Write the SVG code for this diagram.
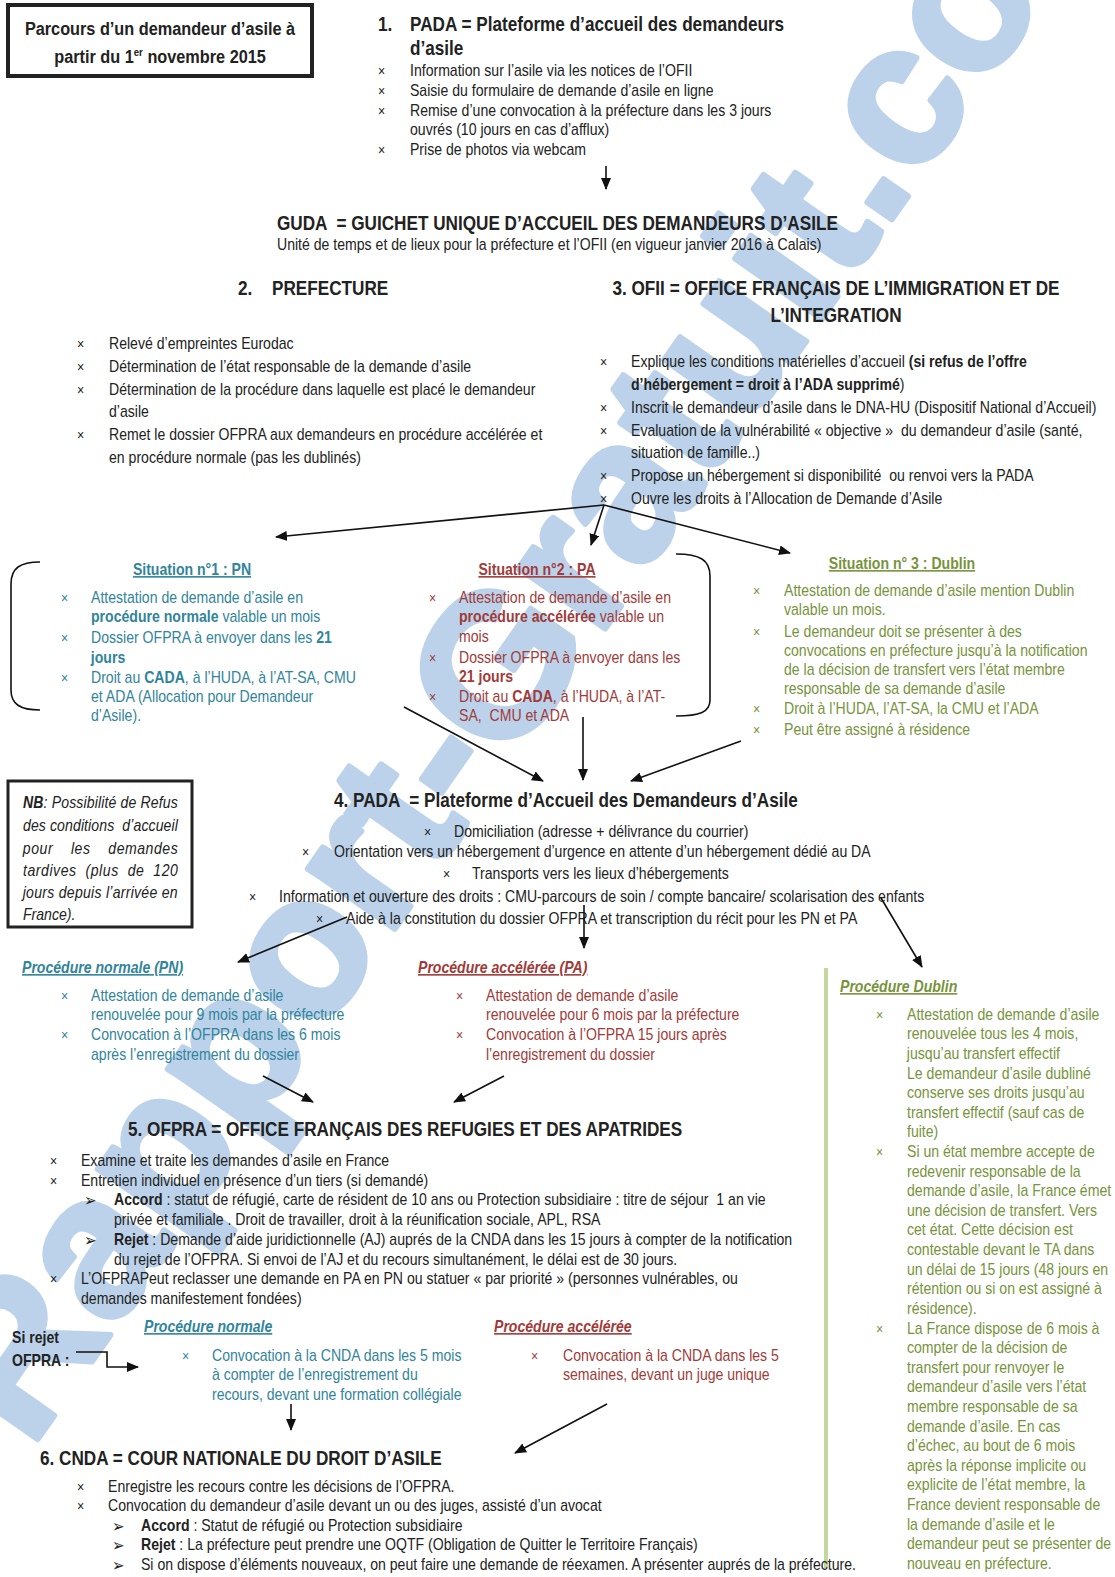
<svg xmlns="http://www.w3.org/2000/svg" width="1115" height="1577" viewBox="0 0 1115 1577">
<style>
text{font-family:'Liberation Sans',Arial,sans-serif;font-size:16px;fill:#222;white-space:pre}
text:not(.wm){transform:scaleX(.88);transform-box:fill-box;transform-origin:0 0}
text.m{text-anchor:middle;transform-origin:50% 0}
.h{font-weight:bold;font-size:19.5px}
.bo{font-weight:bold}
.x{font-size:14px}
.ar{font-family:'DejaVu Sans',sans-serif;font-size:17px}
.pn{fill:#31849B}
.pa{fill:#A03B39}
.du{fill:#77933C}
.ul{text-decoration:underline}
.it{font-style:italic}
.wm{font-weight:bold;font-size:200px;fill:#BCD2EA;stroke:#BCD2EA;stroke-width:6;stroke-linejoin:round}
.cn{stroke:#111;stroke-width:1.6;fill:none}
</style>
<defs>
<marker id="ah" viewBox="0 0 12 10" refX="11" refY="5" markerWidth="12" markerHeight="10" markerUnits="userSpaceOnUse" orient="auto"><path d="M0,0 L12,5 L0,10 z" fill="#111"/></marker>
</defs>
<rect width="1115" height="1577" fill="#fff"/>
<text class="wm" transform="translate(30 1450) rotate(-55)">Rapport-Gratuit.com</text>

<g id="title">
<rect x="8" y="5" width="304" height="71" fill="none" stroke="#222" stroke-width="4"/>
<text class="m bo" x="160" y="35" style="font-size:18.5px">Parcours d’un demandeur d’asile à</text>
<text class="m bo" x="160" y="63" style="font-size:18.5px">partir du 1<tspan font-size="11" dy="-7">er</tspan><tspan dy="7"> novembre 2015</tspan></text>
</g>

<g id="pada1">
<text class="h" x="378" y="31">1.</text>
<text class="h" x="410" y="31">PADA = Plateforme d’accueil des demandeurs</text>
<text class="h" x="410" y="55">d’asile</text>
<text class="x" x="378" y="76">×</text><text x="410" y="76">Information sur l’asile via les notices de l’OFII</text>
<text class="x" x="378" y="96">×</text><text x="410" y="96">Saisie du formulaire de demande d’asile en ligne</text>
<text class="x" x="378" y="116">×</text><text x="410" y="116">Remise d’une convocation à la préfecture dans les 3 jours</text>
<text x="410" y="135">ouvrés (10 jours en cas d’afflux)</text>
<text class="x" x="378" y="155">×</text><text x="410" y="155">Prise de photos via webcam</text>
</g>

<g id="guda">
<text class="h" x="277" y="230">GUDA  = GUICHET UNIQUE D’ACCUEIL DES DEMANDEURS D’ASILE</text>
<text x="277" y="250">Unité de temps et de lieux pour la préfecture et l’OFII (en vigueur janvier 2016 à Calais)</text>
</g>

<g id="prefecture">
<text class="h" x="238" y="295">2.</text>
<text class="h" x="272" y="295">PREFECTURE</text>
<text class="x" x="77" y="349">×</text><text x="109" y="349">Relevé d’empreintes Eurodac</text>
<text class="x" x="77" y="372">×</text><text x="109" y="372">Détermination de l’état responsable de la demande d’asile</text>
<text class="x" x="77" y="395">×</text><text x="109" y="395">Détermination de la procédure dans laquelle est placé le demandeur</text>
<text x="109" y="417">d’asile</text>
<text class="x" x="77" y="440">×</text><text x="109" y="440">Remet le dossier OFPRA aux demandeurs en procédure accélérée et</text>
<text x="109" y="463">en procédure normale (pas les dublinés)</text>
</g>

<g id="ofii">
<text class="h m" x="836" y="295">3. OFII = OFFICE FRANÇAIS DE L’IMMIGRATION ET DE</text>
<text class="h m" x="836" y="322">L’INTEGRATION</text>
<text class="x" x="600" y="367">×</text><text x="631" y="367">Explique les conditions matérielles d’accueil <tspan class="bo">(si refus de l’offre</tspan></text>
<text x="631" y="390"><tspan class="bo">d’hébergement = droit à l’ADA supprimé</tspan>)</text>
<text class="x" x="600" y="413">×</text><text x="631" y="413">Inscrit le demandeur d’asile dans le DNA-HU (Dispositif National d’Accueil)</text>
<text class="x" x="600" y="436">×</text><text x="631" y="436">Evaluation de la vulnérabilité « objective »  du demandeur d’asile (santé,</text>
<text x="631" y="458">situation de famille..)</text>
<text class="x" x="600" y="481">×</text><text x="631" y="481">Propose un hébergement si disponibilité  ou renvoi vers la PADA</text>
<text class="x" x="600" y="504">×</text><text x="631" y="504">Ouvre les droits à l’Allocation de Demande d’Asile</text>
</g>

<g id="situation1">
<path class="cn" d="M40,562 C20,562 11,568 11,584 L11,690 C11,704 20,710 40,710"/>
<text class="m bo ul pn" x="192" y="575">Situation n°1 : PN</text>
<text class="x pn" x="61" y="603">×</text><text class="pn" x="91" y="603">Attestation de demande d’asile en</text>
<text class="pn" x="91" y="622"><tspan class="bo">procédure normale</tspan> valable un mois</text>
<text class="x pn" x="61" y="643">×</text><text class="pn" x="91" y="643">Dossier OFPRA à envoyer dans les <tspan class="bo">21</tspan></text>
<text class="pn bo" x="91" y="663">jours</text>
<text class="x pn" x="61" y="683">×</text><text class="pn" x="91" y="683">Droit au <tspan class="bo">CADA</tspan>, à l’HUDA, à l’AT-SA, CMU</text>
<text class="pn" x="91" y="702">et ADA (Allocation pour Demandeur</text>
<text class="pn" x="91" y="721">d’Asile).</text>
</g>

<g id="situation2">
<path class="cn" d="M676,554 C700,554 710,560 710,576 L710,700 C710,712 700,716 676,716"/>
<text class="m bo ul pa" x="537" y="575">Situation n°2 : PA</text>
<text class="x pa" x="429" y="603">×</text><text class="pa" x="459" y="603">Attestation de demande d’asile en</text>
<text class="pa" x="459" y="622"><tspan class="bo">procédure accélérée</tspan> valable un</text>
<text class="pa" x="459" y="642">mois</text>
<text class="x pa" x="429" y="663">×</text><text class="pa" x="459" y="663">Dossier OFPRA à envoyer dans les</text>
<text class="pa bo" x="459" y="682">21 jours</text>
<text class="x pa" x="429" y="702">×</text><text class="pa" x="459" y="702">Droit au <tspan class="bo">CADA</tspan>, à l’HUDA, à l’AT-</text>
<text class="pa" x="459" y="721">SA,  CMU et ADA</text>
</g>

<g id="situation3">
<text class="m bo ul du" x="902" y="569">Situation n° 3 : Dublin</text>
<text class="x du" x="753" y="596">×</text><text class="du" x="784" y="596">Attestation de demande d’asile mention Dublin</text>
<text class="du" x="784" y="615">valable un mois.</text>
<text class="x du" x="753" y="637">×</text><text class="du" x="784" y="637">Le demandeur doit se présenter à des</text>
<text class="du" x="784" y="656">convocations en préfecture jusqu’à la notification</text>
<text class="du" x="784" y="675">de la décision de transfert vers l’état membre</text>
<text class="du" x="784" y="694">responsable de sa demande d’asile</text>
<text class="x du" x="753" y="714">×</text><text class="du" x="784" y="714">Droit à l’HUDA, l’AT-SA, la CMU et l’ADA</text>
<text class="x du" x="753" y="735">×</text><text class="du" x="784" y="735">Peut être assigné à résidence</text>
</g>

<g id="nb">
<rect x="8" y="781" width="184" height="146" fill="#fff" stroke="#222" stroke-width="3"/>
<text class="it" x="23" y="808" textLength="176" lengthAdjust="spacing"><tspan class="bo">NB</tspan>: Possibilité de Refus</text>
<text class="it" x="23" y="831" textLength="176" lengthAdjust="spacing">des conditions  d’accueil</text>
<text class="it" x="23" y="854" textLength="176" lengthAdjust="spacing">pour    les    demandes</text>
<text class="it" x="23" y="876" textLength="176" lengthAdjust="spacing">tardives  (plus  de  120</text>
<text class="it" x="23" y="898" textLength="176" lengthAdjust="spacing">jours depuis l’arrivée en</text>
<text class="it" x="23" y="920">France).</text>
</g>

<g id="pada4">
<text class="h" x="334" y="807">4. PADA  = Plateforme d’Accueil des Demandeurs d’Asile</text>
<text class="x" x="424" y="837">×</text><text x="454" y="837">Domiciliation (adresse + délivrance du courrier)</text>
<text class="x" x="302" y="857">×</text><text x="334" y="857">Orientation vers un hébergement d’urgence en attente d’un hébergement dédié au DA</text>
<text class="x" x="443" y="879">×</text><text x="472" y="879">Transports vers les lieux d’hébergements</text>
<text class="x" x="249" y="902">×</text><text x="279" y="902">Information et ouverture des droits : CMU-parcours de soin / compte bancaire/ scolarisation des enfants</text>
<text class="x" x="316" y="924">×</text><text x="346" y="924">Aide à la constitution du dossier OFPRA et transcription du récit pour les PN et PA</text>
</g>

<g id="proc-pn">
<text class="it bo ul pn" x="22" y="973">Procédure normale (PN)</text>
<text class="x pn" x="61" y="1001">×</text><text class="pn" x="91" y="1001">Attestation de demande d’asile</text>
<text class="pn" x="91" y="1020">renouvelée pour 9 mois par la préfecture</text>
<text class="x pn" x="61" y="1040">×</text><text class="pn" x="91" y="1040">Convocation à l’OFPRA dans les 6 mois</text>
<text class="pn" x="91" y="1060">après l’enregistrement du dossier</text>
</g>

<g id="proc-pa">
<text class="it bo ul pa" x="418" y="973">Procédure accélérée (PA)</text>
<text class="x pa" x="456" y="1001">×</text><text class="pa" x="486" y="1001">Attestation de demande d’asile</text>
<text class="pa" x="486" y="1020">renouvelée pour 6 mois par la préfecture</text>
<text class="x pa" x="456" y="1040">×</text><text class="pa" x="486" y="1040">Convocation à l’OFPRA 15 jours après</text>
<text class="pa" x="486" y="1060">l’enregistrement du dossier</text>
</g>

<g id="proc-dublin">
<line x1="826" y1="968" x2="826" y2="1568" stroke="#C3D69B" stroke-width="4"/>
<text class="it bo ul du" x="840" y="992">Procédure Dublin</text>
<text class="x du" x="876" y="1020">×</text><text class="du" x="907" y="1020">Attestation de demande d’asile</text>
<text class="du" x="907" y="1039">renouvelée tous les 4 mois,</text>
<text class="du" x="907" y="1059">jusqu’au transfert effectif</text>
<text class="du" x="907" y="1079">Le demandeur d’asile dubliné</text>
<text class="du" x="907" y="1098">conserve ses droits jusqu’au</text>
<text class="du" x="907" y="1118">transfert effectif (sauf cas de</text>
<text class="du" x="907" y="1137">fuite)</text>
<text class="x du" x="876" y="1157">×</text><text class="du" x="907" y="1157">Si un état membre accepte de</text>
<text class="du" x="907" y="1177">redevenir responsable de la</text>
<text class="du" x="907" y="1196">demande d’asile, la France émet</text>
<text class="du" x="907" y="1216">une décision de transfert. Vers</text>
<text class="du" x="907" y="1235">cet état. Cette décision est</text>
<text class="du" x="907" y="1255">contestable devant le TA dans</text>
<text class="du" x="907" y="1275">un délai de 15 jours (48 jours en</text>
<text class="du" x="907" y="1294">rétention ou si on est assigné à</text>
<text class="du" x="907" y="1314">résidence).</text>
<text class="x du" x="876" y="1334">×</text><text class="du" x="907" y="1334">La France dispose de 6 mois à</text>
<text class="du" x="907" y="1353">compter de la décision de</text>
<text class="du" x="907" y="1373">transfert pour renvoyer le</text>
<text class="du" x="907" y="1392">demandeur d’asile vers l’état</text>
<text class="du" x="907" y="1412">membre responsable de sa</text>
<text class="du" x="907" y="1432">demande d’asile. En cas</text>
<text class="du" x="907" y="1451">d’échec, au bout de 6 mois</text>
<text class="du" x="907" y="1471">après la réponse implicite ou</text>
<text class="du" x="907" y="1490">explicite de l’état membre, la</text>
<text class="du" x="907" y="1510">France devient responsable de</text>
<text class="du" x="907" y="1530">la demande d’asile et le</text>
<text class="du" x="907" y="1549">demandeur peut se présenter de</text>
<text class="du" x="907" y="1569">nouveau en préfecture.</text>
</g>

<g id="ofpra">
<text class="h" x="128" y="1136">5. OFPRA = OFFICE FRANÇAIS DES REFUGIES ET DES APATRIDES</text>
<text class="x" x="50" y="1166">×</text><text x="81" y="1166">Examine et traite les demandes d’asile en France</text>
<text class="x" x="50" y="1186">×</text><text x="81" y="1186">Entretien individuel en présence d’un tiers (si demandé)</text>
<text class="ar" x="84" y="1206">➢</text><text x="114" y="1205"><tspan class="bo">Accord</tspan> : statut de réfugié, carte de résident de 10 ans ou Protection subsidiaire : titre de séjour  1 an vie</text>
<text x="114" y="1225">privée et familiale . Droit de travailler, droit à la réunification sociale, APL, RSA</text>
<text class="ar" x="84" y="1246">➢</text><text x="114" y="1245"><tspan class="bo">Rejet</tspan> : Demande d’aide juridictionnelle (AJ) auprés de la CNDA dans les 15 jours à compter de la notification</text>
<text x="114" y="1265">du rejet de l’OFPRA. Si envoi de l’AJ et du recours simultanément, le délai est de 30 jours.</text>
<text class="x" x="50" y="1284">×</text><text x="81" y="1284">L’OFPRAPeut reclasser une demande en PA en PN ou statuer « par priorité » (personnes vulnérables, ou</text>
<text x="81" y="1304">demandes manifestement fondées)</text>
</g>

<g id="si-rejet">
<text class="bo" x="12" y="1343">Si rejet</text>
<text class="bo" x="12" y="1366">OFPRA :</text>
</g>

<g id="cnda-pn">
<text class="it bo ul pn" x="144" y="1332">Procédure normale</text>
<text class="x pn" x="182" y="1361">×</text><text class="pn" x="212" y="1361">Convocation à la CNDA dans les 5 mois</text>
<text class="pn" x="212" y="1380">à compter de l’enregistrement du</text>
<text class="pn" x="212" y="1400">recours, devant une formation collégiale</text>
</g>

<g id="cnda-pa">
<text class="it bo ul pa" x="494" y="1332">Procédure accélérée</text>
<text class="x pa" x="531" y="1361">×</text><text class="pa" x="563" y="1361">Convocation à la CNDA dans les 5</text>
<text class="pa" x="563" y="1380">semaines, devant un juge unique</text>
</g>

<g id="cnda">
<text class="h" x="40" y="1465">6. CNDA = COUR NATIONALE DU DROIT D’ASILE</text>
<text class="x" x="77" y="1492">×</text><text x="108" y="1492">Enregistre les recours contre les décisions de l’OFPRA.</text>
<text class="x" x="77" y="1511">×</text><text x="108" y="1511">Convocation du demandeur d’asile devant un ou des juges, assisté d’un avocat</text>
<text class="ar" x="112" y="1532">➢</text><text x="141" y="1531"><tspan class="bo">Accord</tspan> : Statut de réfugié ou Protection subsidiaire</text>
<text class="ar" x="112" y="1551">➢</text><text x="141" y="1550"><tspan class="bo">Rejet</tspan> : La préfecture peut prendre une OQTF (Obligation de Quitter le Territoire Français)</text>
<text class="ar" x="112" y="1571">➢</text><text x="141" y="1570">Si on dispose d’éléments nouveaux, on peut faire une demande de réexamen. A présenter auprés de la préfecture.</text>
</g>

<g id="connectors">
<line class="cn" x1="606" y1="166" x2="606" y2="189" marker-end="url(#ah)"/>
<line class="cn" x1="604" y1="505" x2="276" y2="537" marker-end="url(#ah)"/>
<line class="cn" x1="604" y1="505" x2="591" y2="545" marker-end="url(#ah)"/>
<line class="cn" x1="604" y1="505" x2="790" y2="553" marker-end="url(#ah)"/>
<line class="cn" x1="404" y1="707" x2="543" y2="781" marker-end="url(#ah)"/>
<line class="cn" x1="583" y1="717" x2="583" y2="780" marker-end="url(#ah)"/>
<line class="cn" x1="741" y1="741" x2="631" y2="781" marker-end="url(#ah)"/>
<line class="cn" x1="347" y1="917" x2="238" y2="962" marker-end="url(#ah)"/>
<line class="cn" x1="584" y1="905" x2="584" y2="948" marker-end="url(#ah)"/>
<line class="cn" x1="881" y1="898" x2="922" y2="967" marker-end="url(#ah)"/>
<line class="cn" x1="263" y1="1076" x2="313" y2="1102" marker-end="url(#ah)"/>
<line class="cn" x1="504" y1="1076" x2="454" y2="1102" marker-end="url(#ah)"/>
<path class="cn" d="M76,1352 H107 V1367 H138" marker-end="url(#ah)"/>
<line class="cn" x1="291" y1="1404" x2="291" y2="1430" marker-end="url(#ah)"/>
<line class="cn" x1="607" y1="1404" x2="515" y2="1453" marker-end="url(#ah)"/>
</g>
</svg>
